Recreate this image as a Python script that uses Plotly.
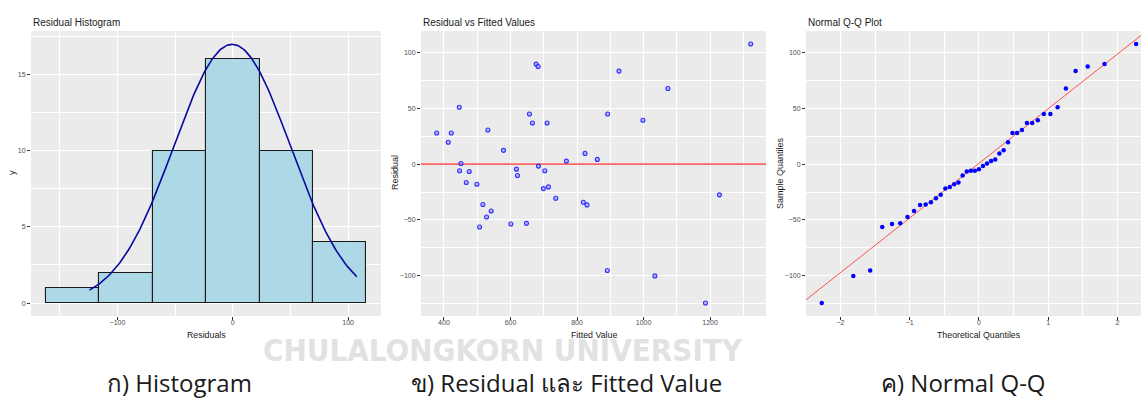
import numpy as np
import plotly.graph_objects as go
from statistics import NormalDist

# Fitted values and residuals of the regression model (43 observations)
fitted = [378, 413, 422, 446, 447, 451, 467, 476, 499, 507, 517, 528, 532, 542,
          579, 601, 618, 621, 648, 657, 666, 677, 683, 684, 699, 703, 710, 714,
          736, 768, 819, 824, 830, 861, 891, 892, 926, 998, 1034, 1073, 1186,
          1228, 1322]
residuals = [27.8, 19.5, 27.8, 50.9, -6.0, 0.5, -16.5, -6.6, -18.0, -56.3, -36.2,
             -47.3, 30.5, -41.9, 12.3, -53.6, -4.5, -10.2, -53.0, 44.9, 36.8, 89.5,
             87.4, -1.8, -21.9, -6.0, 36.8, -20.4, -30.5, 2.7, -34.1, 9.6, -36.5,
             4.2, -95.2, 44.9, 83.2, 39.2, -100.0, 67.7, -124.3, -27.5, 107.5]

# Histogram settings: six bins centred on zero, normal curve scaled by n * 50
bin_width = 46.36
curve_binwidth = 50

panel_titles = ["Residual Histogram", "Residual vs Fitted Values", "Normal Q-Q Plot"]
captions = ["ก) Histogram", "ข) Residual และ Fitted Value", "ค) Normal Q-Q"]

W, H = 1141, 398
res = np.array(residuals, dtype=float)
n = len(res)

# --- histogram bins
edges = (np.arange(-3, 4) - 0.5) * bin_width
counts, _ = np.histogram(res, bins=edges)
centers = (edges[:-1] + edges[1:]) / 2

# --- normal density overlay
mu, sd = res.mean(), res.std(ddof=1)
xs = np.linspace(res.min(), res.max(), 200)
ys = np.exp(-0.5 * ((xs - mu) / sd) ** 2) / (sd * np.sqrt(2 * np.pi)) * n * curve_binwidth

# --- Q-Q values
nd = NormalDist()
probs = (np.arange(1, n + 1) - 0.5) / n
theo = np.array([nd.inv_cdf(p) for p in probs])
sample = np.sort(res)
q1, q3 = np.percentile(res, [25, 75])
slope = (q3 - q1) / (nd.inv_cdf(0.75) - nd.inv_cdf(0.25))
intercept = q1 - slope * nd.inv_cdf(0.25)
line_x = np.array([-3.0, 3.0])
line_y = intercept + slope * line_x

fig = go.Figure()

fig.add_trace(go.Bar(x=centers, y=counts, width=bin_width,
                     marker=dict(color="#ADD8E6", line=dict(color="#1a1a1a", width=1.1)),
                     xaxis="x", yaxis="y", showlegend=False, hoverinfo="skip"))
fig.add_trace(go.Scatter(x=xs, y=ys, mode="lines", line=dict(color="#0a0aa0", width=1.6),
                         xaxis="x", yaxis="y", showlegend=False))

fig.add_trace(go.Scatter(x=[300, 1400], y=[0, 0], mode="lines",
                         line=dict(color="#ff3030", width=1.2),
                         xaxis="x2", yaxis="y2", showlegend=False))
fig.add_trace(go.Scatter(x=fitted, y=residuals, mode="markers",
                         marker=dict(symbol="circle", size=4, color="rgba(150,150,255,0.6)",
                                     line=dict(width=1.1, color="rgba(20,20,255,0.85)")),
                         xaxis="x2", yaxis="y2", showlegend=False))

fig.add_trace(go.Scatter(x=line_x, y=line_y, mode="lines",
                         line=dict(color="#ff4040", width=0.9),
                         xaxis="x3", yaxis="y3", showlegend=False))
fig.add_trace(go.Scatter(x=theo, y=sample, mode="markers",
                         marker=dict(symbol="circle", size=4.5, color="#0000ff"),
                         xaxis="x3", yaxis="y3", showlegend=False))

font_fam = "Liberation Sans, Arial, sans-serif"
ydom = [1 - 316 / H, 1 - 31 / H]


def axis(domain, rng, dtick, minor, anchor, is_x):
    d = dict(domain=domain, range=rng, dtick=dtick, tick0=0, anchor=anchor,
             showgrid=True, gridcolor="white", gridwidth=1.1, zeroline=False,
             ticks="outside", ticklen=3, tickwidth=1, tickcolor="#333333",
             tickfont=dict(family=font_fam, size=7, color="#4d4d4d"),
             showline=False,
             minor=dict(dtick=minor, tick0=0, showgrid=True, gridcolor="white",
                        gridwidth=0.5, ticks=""))
    if is_x:
        d["ticklabelstandoff"] = -3
    return d


fig.update_layout(
    width=W, height=H, margin=dict(l=0, r=0, t=0, b=0),
    paper_bgcolor="white", plot_bgcolor="#EBEBEB",
    xaxis=axis([31 / W, 381 / W], [-175, 128.5], 100, 50, "y", True),
    yaxis=axis(ydom, [-0.85, 17.85], 5, 2.5, "x", False),
    xaxis2=axis([421 / W, 766 / W], [331, 1368], 200, 100, "y2", True),
    yaxis2=axis(ydom, [-135.9, 119.1], 50, 25, "x2", False),
    xaxis3=axis([806 / W, 1.0], [-2.497, 2.34], 1, 0.5, "y3", True),
    yaxis3=axis(ydom, [-135.9, 119.1], 50, 25, "x3", False),
    bargap=0,
)

ann = []
# panel titles
for x0, t in zip([31, 421, 806], panel_titles):
    ann.append(dict(x=x0 / W, y=1 - 22 / H, xref="paper", yref="paper", text=t,
                    showarrow=False, xanchor="left", yanchor="middle",
                    font=dict(family=font_fam, size=10, color="#1a1a1a")))
# x axis titles
for xc, t in zip([206, 593.5, 978.5],
                 ["Residuals", "Fitted Value", "Theoretical Quantiles"]):
    ann.append(dict(x=xc / W, y=1 - 335 / H, xref="paper", yref="paper", text=t,
                    showarrow=False, xanchor="center", yanchor="middle",
                    font=dict(family=font_fam, size=8.8, color="#1a1a1a")))
# y axis titles
for xc, t in zip([12, 395, 780], ["y", "Residual", "Sample Quantiles"]):
    ann.append(dict(x=xc / W, y=1 - 173 / H, xref="paper", yref="paper", text=t,
                    showarrow=False, xanchor="center", yanchor="middle", textangle=-90,
                    font=dict(family=font_fam, size=9, color="#1a1a1a")))
# watermark
ann.append(dict(x=503 / W, y=1 - 350 / H, xref="paper", yref="paper",
                text="<b>CHULALONGKORN UNIVERSITY</b>", showarrow=False,
                xanchor="center", yanchor="middle",
                font=dict(family="DejaVu Sans Condensed, Liberation Sans Narrow, sans-serif",
                          size=31, color="#e2e2e2")))
# captions
for xc, t in zip([179, 566, 963], captions):
    ann.append(dict(x=xc / W, y=1 - 382 / H, xref="paper", yref="paper", text=t,
                    showarrow=False, xanchor="center", yanchor="middle",
                    font=dict(family="Open Sans, Noto Sans, sans-serif", size=24,
                              color="#1a1a1a")))

fig.update_layout(annotations=ann)
fig.write_html("out.html")
